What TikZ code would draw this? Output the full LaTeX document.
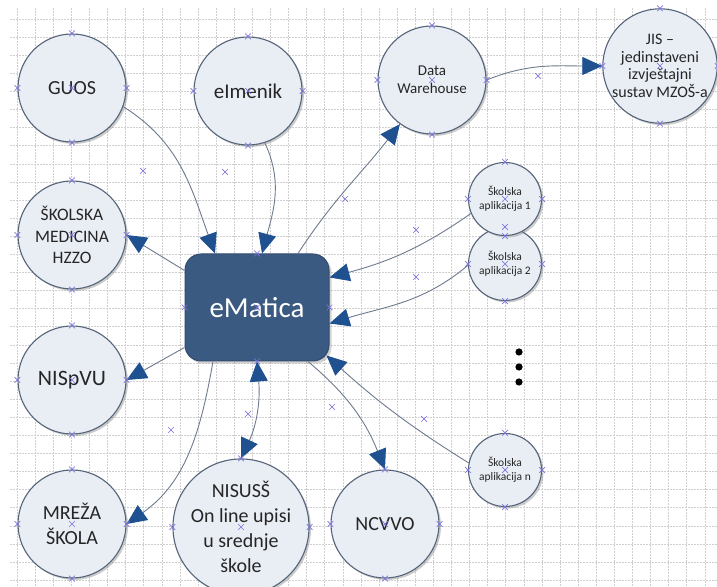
\documentclass[tikz,border=0pt]{standalone}
\usepackage{fontspec}
\setmainfont{Carlito}
\usetikzlibrary{
  positioning,
  arrows.meta,
  shapes.misc,
  shadows
}
\definecolor{emNavy}{HTML}{3B5A82}
\definecolor{emFill}{HTML}{E9EEF5}
\definecolor{emRim}{HTML}{56647A}
\definecolor{emLine}{HTML}{6E7B8E}
\definecolor{emHead}{HTML}{1F5190}
\definecolor{emCross}{HTML}{7B74DD}
\definecolor{emGrid}{HTML}{CFCFCF}

\begin{document}
\begin{tikzpicture}[
  x=1pt, y=1pt,
  every node/.style={align=center, inner sep=0pt},
  bubble/.style={
    circle, draw=emRim, fill=emFill, line width=1.1pt,
    minimum size=108pt, text=black!85,
    drop shadow={shadow xshift=2pt, shadow yshift=-2pt, opacity=0.4}
  },
  small/.style={bubble, minimum size=73pt, font=\fontsize{11.5}{14}\selectfont},
  hub/.style={
    rectangle, rounded corners=16pt,
    draw=emNavy!85!black, fill=emNavy, line width=1pt,
    minimum width=144pt, minimum height=107pt,
    text=white, font=\fontsize{29}{34}\selectfont,
    drop shadow={shadow xshift=2.5pt, shadow yshift=-2.5pt, opacity=0.35}
  },
  link/.style={draw=emLine, line width=0.9pt,
    -{Triangle[length=20pt, width=18pt, color=emHead]}},
  both/.style={link,
    {Triangle[length=20pt, width=18pt, color=emHead]}-{Triangle[length=20pt, width=18pt, color=emHead]}},
  cpt/.style={cross out, draw=emCross, line width=0.7pt, minimum size=5pt},
  gridline/.style={draw=emGrid, line width=0.5pt, dash pattern=on 2pt off 1pt}
]
 \useasboundingbox (0,0) rectangle (717,586);
 \fill[white] (0,0) rectangle (717,586);

 % Background grid, ~18 px apart
 \foreach \i in {0,...,38}
  \draw[gridline] ({17+18.1*\i},0) -- ({17+18.1*\i},578);
 \foreach \j in {0,...,31}
  \draw[gridline] (10,{567-18.1*\j}) -- (717,{567-18.1*\j});

 % Left column
 \node[bubble, font=\fontsize{20}{24}\selectfont] (guos) at (72,498) {GUOS};
 \node[bubble, font=\fontsize{17.5}{21.7}\selectfont] (skm) at (72,351)
  {ŠKOLSKA\\MEDICINA\\HZZO};
 \node[bubble, font=\fontsize{22}{26}\selectfont] (nis) at (72,206) {NISpVU};
 \node[bubble, font=\fontsize{20}{25}\selectfont] (mrz) at (72,62)
  {MREŽA\\ŠKOLA};

 % Top row
 \node[bubble, font=\fontsize{21}{25}\selectfont] (eim) at (248,495) {eImenik};
 \node[bubble, font=\fontsize{15}{18}\selectfont] (dw) at (432,506)
  {Data\\Warehouse};
 \node[bubble, font=\fontsize{16}{17.5}\selectfont] (jis) at (660,520)
  {JIS –\\jedinstaveni\\izvještajni\\sustav MZOŠ-a};

 % Bottom row
 \node[bubble, minimum size=122pt, font=\fontsize{20}{25}\selectfont] (nus) at (241,59)
  {NISUSŠ\\On line upisi\\u srednje\\škole};
 \node[bubble, font=\fontsize{20}{24}\selectfont] (ncv) at (385,62) {NCVVO};

 % School applications on the right
 \node[small] (sa2) at (505,322) {Školska\\aplikacija 2};
 \node[small] (sa1) at (505,387) {Školska\\aplikacija 1};
 \node[small] (san) at (505,116) {Školska\\aplikacija n};
 \foreach \y in {234,219,204}
  \fill (519,\y) circle (3.6);

 % Hub
 \node[hub] (emat) at (257,278.5) {eMatica};

 % Connectors into the hub
 \draw[link] (guos.-20) to[out=-32, in=110] ([xshift=-42]emat.north);
 \draw[link] (eim.-72) to[out=-65, in=75] ([xshift=5]emat.north);
 \draw[link] (sa1.-157) to[out=-145, in=15] ([yshift=30]emat.east);
 \draw[link] (sa2.182) to[out=-140, in=17] ([yshift=-16]emat.east);
 \draw[link] (san.169) to[out=148, in=-42] ([shift={(-3,6)}]emat.south east);

 % Connectors out of the hub
 \draw[link] ([yshift=-17]emat.north west) -- (skm.east);
 \draw[link] ([yshift=14]emat.south west) -- (nis.east);
 \draw[link] ([xshift=-44]emat.south) to[out=-100, in=35] (mrz.east);
 \draw[both] (emat.south) to[out=-85, in=65] (nus.north);
 \draw[link] ([xshift=51]emat.south) to[out=-40, in=112] (ncv.north);
 \draw[link] ([xshift=41]emat.north) to[out=57, in=-128] (dw.-126);
 \draw[link] (dw.east) to[out=22, in=180] (jis.west);

 % Connection point markers
 \foreach \n in {guos,skm,nis,mrz,eim,dw,jis,nus,ncv,sa1,sa2,san,emat}
  \foreach \a in {north,south,east,west,center}
   \node[cpt] at (\n.\a) {};
 \foreach \p in {(143,415),(225,414),(345,387),(538,510),(416,356),
                 (416,309),(171,156),(248,172),(332,179),(424,167)}
  \node[cpt] at \p {};
\end{tikzpicture}
\end{document}
